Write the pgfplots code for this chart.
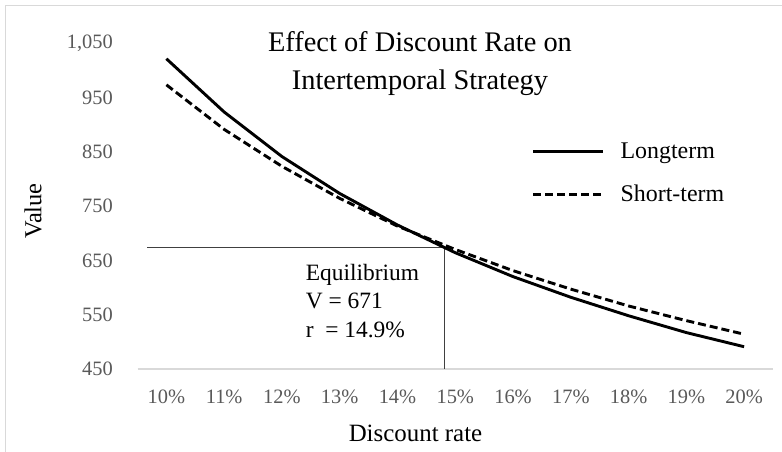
\documentclass[border=0pt]{standalone}
\usepackage{fontspec}
\setmainfont{Liberation Serif}
\usepackage{pgfplots}
\pgfplotsset{compat=1.18}
\definecolor{tickgray}{HTML}{595959}
\definecolor{framegray}{HTML}{D9D9D9}
\definecolor{eqgray}{HTML}{404040}
\newcommand{\tf}{\fontsize{20.5}{24}\selectfont}
\begin{document}
\begin{tikzpicture}[x=1bp,y=1bp]
\path[use as bounding box] (0,0) rectangle (782,452);
\draw[framegray, line width=1bp] (5.5,-2) -- (5.5,446.5) -- (784,446.5);
\begin{axis}[
  at={(137.5bp,83bp)}, anchor=south west,
  scale only axis, width=635.5bp, height=326bp,
  xmin=9.5, xmax=20.5, ymin=450, ymax=1050,
  xtick={10,11,12,13,14,15,16,17,18,19,20},
  xticklabels={{\tf 10\%},{\tf 11\%},{\tf 12\%},{\tf 13\%},{\tf 14\%},{\tf 15\%},{\tf 16\%},{\tf 17\%},{\tf 18\%},{\tf 19\%},{\tf 20\%}},
  ytick={450,550,650,750,850,950,1050},
  yticklabels={{\tf 450},{\tf 550},{\tf 650},{\tf 750},{\tf 850},{\tf 950},{\tf 1,050}},
  axis line style={draw=none},
  major tick length=0pt,
  tick style={draw=none},
  tick label style={text=tickgray, inner sep=0pt},
  xticklabel style={anchor=north, yshift=-21bp},
  yticklabel style={anchor=east, xshift=-24.5bp},
  clip=false,
  legend style={draw=none, fill=none, at={(0.62,0.70)}, anchor=north west,
    font=\fontsize{24}{28}\selectfont, row sep=21bp, inner sep=0pt},
  legend cell align=left,
  legend image code/.code={\draw[#1] (0bp,0bp) -- (70bp,0bp);},
]
\draw[framegray, line width=1.2bp] (axis cs:9.5,450) -- (axis cs:20.5,450);
\draw[eqgray, line width=0.8bp] (axis cs:9.67,673) -- (axis cs:14.82,673) -- (axis cs:14.82,450);
\addplot[black, line width=2.9bp, mark=none] coordinates {
(10,1021) (11,923) (12,841) (13,773) (14,715) (15,664) (16,620) (17,582) (18,548) (19,517) (20,491)};
\addlegendentry{\hspace{14bp}\fontsize{24}{28}\selectfont Longterm}
\addplot[black, line width=2.9bp, mark=none, dash pattern=on 8bp off 4bp] coordinates {
(10,973) (11,891) (12,823) (13,764) (14,713) (15,670) (16,631) (17,597) (18,566) (19,539) (20,514)};
\addlegendentry{\hspace{14bp}\fontsize{24}{28}\selectfont Short-term}
\node[anchor=north west, align=left, inner sep=0pt, font=\fontsize{23.5}{29}\selectfont] at (axis cs:12.41,644) {Equilibrium\\V = 671\\r\ \ = 14.9\%};
\end{axis}
\node[anchor=north, align=center, inner sep=0pt, font=\fontsize{28.5}{38}\selectfont] at (420,421) {Effect of Discount Rate on\\Intertemporal Strategy};
\node[rotate=90, font=\fontsize{24.5}{28}\selectfont, inner sep=0pt] at (33,241) {Value};
\node[font=\fontsize{25}{28}\selectfont, inner sep=0pt] at (415.5,19) {Discount rate};
\end{tikzpicture}
\end{document}
